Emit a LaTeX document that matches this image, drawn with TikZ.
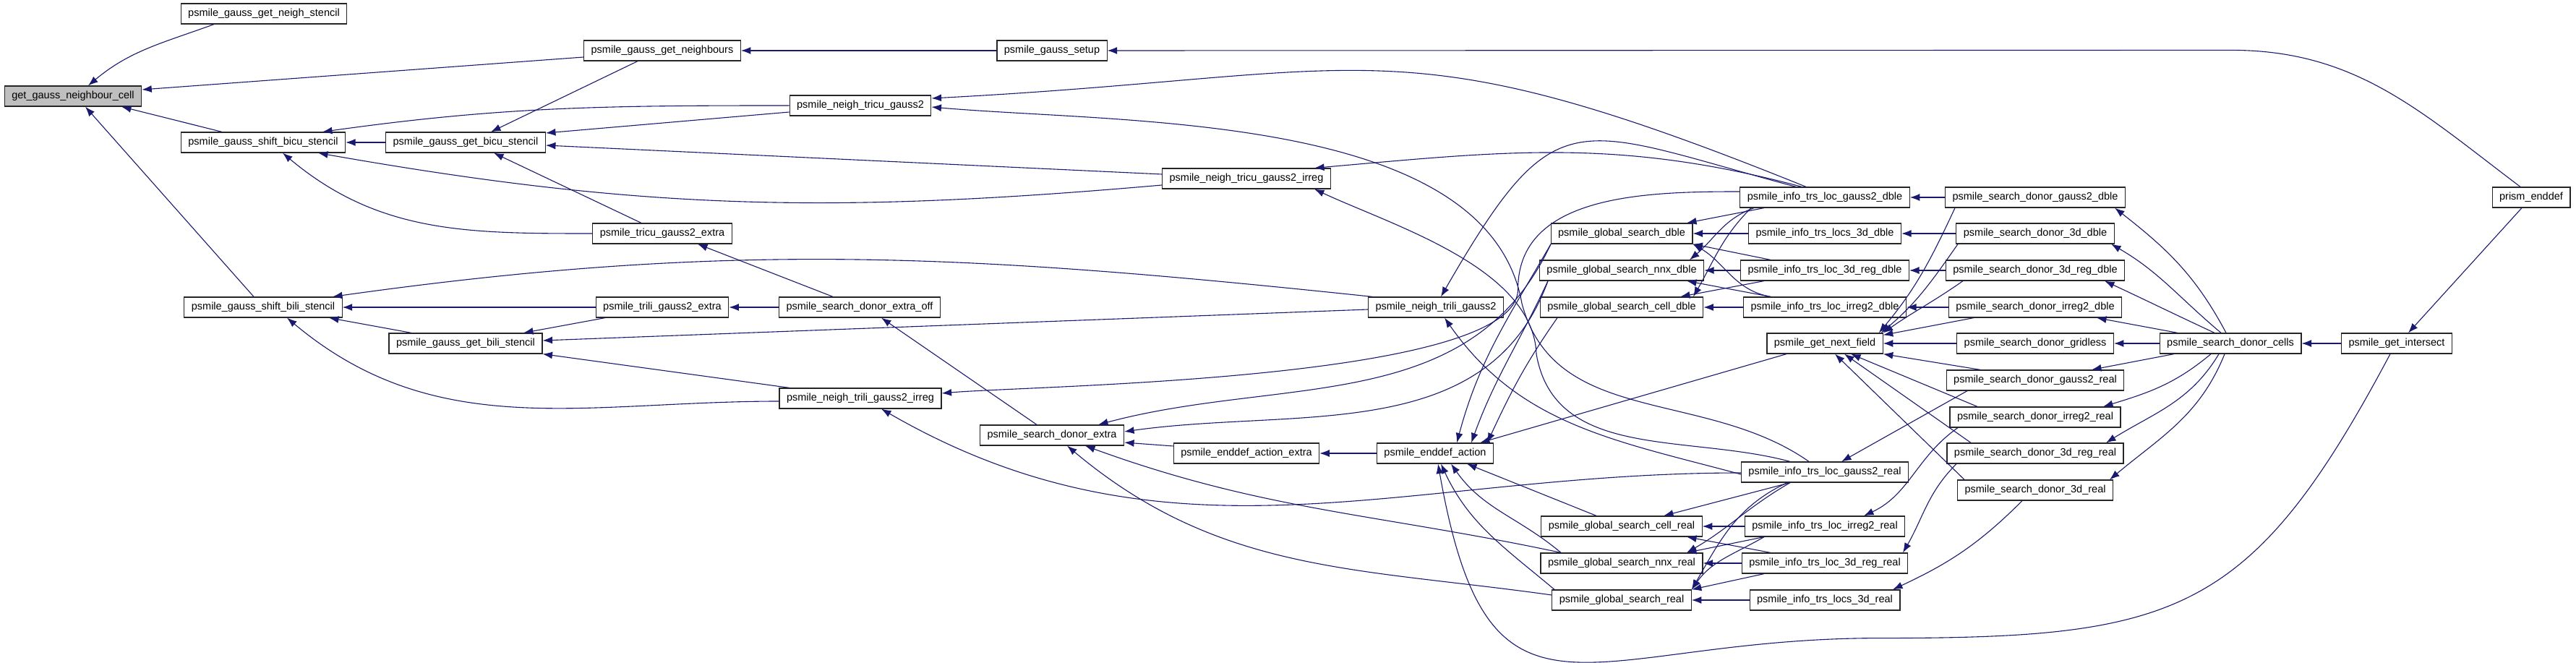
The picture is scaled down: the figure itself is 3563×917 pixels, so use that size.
\documentclass[tikz,border=0pt]{standalone}
\usepackage{fontspec}
\setmainfont{Liberation Sans}
\usepackage{tikz}
\usetikzlibrary{arrows.meta}
\definecolor{callblue}{HTML}{191970}
\definecolor{focusgray}{HTML}{BFBFBF}
\tikzset{>={Latex[length=5.4pt,width=4pt]},
	fn/.style={draw=black!85, line width=0.48pt, fill=white, minimum height=11.2pt, inner xsep=4pt, inner ysep=0pt, font=\fontsize{5.8}{6.4}\selectfont},
	focus/.style={fn, fill=focusgray},
	call/.style={->, draw=callblue, line width=0.44pt},
}

\begin{document}
\begin{tikzpicture}[x=0.4pt,y=0.4pt]
				\useasboundingbox (0,0) rectangle (3563,-917);
				
				\node[focus] (ggnc) at (101,-133) {get\_gauss\_neighbour\_cell};
				\node[fn] (nst) at (365,-19) {psmile\_gauss\_get\_neigh\_stencil};
				\node[fn] (sbicu) at (364,-197) {psmile\_gauss\_shift\_bicu\_stencil};
				\node[fn] (sbili) at (364,-425) {psmile\_gauss\_shift\_bili\_stencil};
				\node[fn] (gbicu) at (644,-197) {psmile\_gauss\_get\_bicu\_stencil};
				\node[fn] (gbili) at (644,-475) {psmile\_gauss\_get\_bili\_stencil};
				\node[fn] (gnb) at (916,-70) {psmile\_gauss\_get\_neighbours};
				\node[fn] (tcx) at (916,-323) {psmile\_tricu\_gauss2\_extra};
				\node[fn] (tlx) at (916,-425) {psmile\_trili\_gauss2\_extra};
				\node[fn] (ntc) at (1190,-146) {psmile\_neigh\_tricu\_gauss2};
				\node[fn] (sxo) at (1189,-425) {psmile\_search\_donor\_extra\_off};
				\node[fn] (ntli) at (1190,-551) {psmile\_neigh\_trili\_gauss2\_irreg};
				\node[fn] (gset) at (1455,-70) {psmile\_gauss\_setup};
				\node[fn] (sdx) at (1455,-602) {psmile\_search\_donor\_extra};
				\node[fn] (ntci) at (1724,-247) {psmile\_neigh\_tricu\_gauss2\_irreg};
				\node[fn] (eax) at (1724,-627) {psmile\_enddef\_action\_extra};
				\node[fn] (ntl) at (1986,-425) {psmile\_neigh\_trili\_gauss2};
				\node[fn] (ea) at (1985,-627) {psmile\_enddef\_action};
				\node[fn] (gsd) at (2243,-323) {psmile\_global\_search\_dble};
				\node[fn] (gsnd) at (2243,-374) {psmile\_global\_search\_nnx\_dble};
				\node[fn] (gscd) at (2243,-425) {psmile\_global\_search\_cell\_dble};
				\node[fn] (gscr) at (2243,-728) {psmile\_global\_search\_cell\_real};
				\node[fn] (gsnr) at (2243,-779) {psmile\_global\_search\_nnx\_real};
				\node[fn] (gsr) at (2243,-830) {psmile\_global\_search\_real};
				\node[fn] (igd) at (2524,-273) {psmile\_info\_trs\_loc\_gauss2\_dble};
				\node[fn] (i3d) at (2524,-323) {psmile\_info\_trs\_locs\_3d\_dble};
				\node[fn] (irgd) at (2524,-374) {psmile\_info\_trs\_loc\_3d\_reg\_dble};
				\node[fn] (iid) at (2524,-425) {psmile\_info\_trs\_loc\_irreg2\_dble};
				\node[fn] (gnf) at (2524,-475) {psmile\_get\_next\_field};
				\node[fn] (igr) at (2524,-653) {psmile\_info\_trs\_loc\_gauss2\_real};
				\node[fn] (iir) at (2524,-728) {psmile\_info\_trs\_loc\_irreg2\_real};
				\node[fn] (irgr) at (2524,-779) {psmile\_info\_trs\_loc\_3d\_reg\_real};
				\node[fn] (i3r) at (2524,-830) {psmile\_info\_trs\_locs\_3d\_real};
				\node[fn] (sgd) at (2815,-273) {psmile\_search\_donor\_gauss2\_dble};
				\node[fn] (s3d) at (2815,-323) {psmile\_search\_donor\_3d\_dble};
				\node[fn] (srgd) at (2815,-374) {psmile\_search\_donor\_3d\_reg\_dble};
				\node[fn] (sid) at (2815,-425) {psmile\_search\_donor\_irreg2\_dble};
				\node[fn] (sgl) at (2815,-475) {psmile\_search\_donor\_gridless};
				\node[fn] (sgr) at (2815,-526) {psmile\_search\_donor\_gauss2\_real};
				\node[fn] (sir) at (2815,-577) {psmile\_search\_donor\_irreg2\_real};
				\node[fn] (srgr) at (2815,-627) {psmile\_search\_donor\_3d\_reg\_real};
				\node[fn] (s3r) at (2815,-678) {psmile\_search\_donor\_3d\_real};
				\node[fn] (sdc) at (3085,-475) {psmile\_search\_donor\_cells};
				\node[fn] (gint) at (3315,-475) {psmile\_get\_intersect};
				\node[fn] (pe) at (3501,-273) {prism\_enddef};
				
				% left part
				\draw[call] ([shift={(-69,0)}]nst.south) to[out=-160,in=40] ([shift={(21,0)}]ggnc.north);
				\draw[call] ([shift={(0,-9)}]gnb.west) -- ([shift={(0,9)}]ggnc.east);
				\draw[call] ([shift={(-57,0)}]sbicu.north) -- ([shift={(67,0)}]ggnc.south);
				\draw[call] ([shift={(-13,0)}]sbili.north) -- ([shift={(17,0)}]ggnc.south);
				\draw[call] (ntc.west) to[out=180,in=8] ([shift={(82,0)}]sbicu.north);
				\draw[call] (gbicu) -- (sbicu);
				\draw[call] ([shift={(0,-9)}]ntci.west) to[out=185,in=-10] ([shift={(76,0)}]sbicu.south);
				\draw[call] (tcx.west) to[out=180,in=-40] ([shift={(27,0)}]sbicu.south);
				\draw[call] ([shift={(-34,0)}]gnb.south) -- ([shift={(35,0)}]gbicu.north);
				\draw[call] ([shift={(0,-9)}]ntc.west) -- ([shift={(0,13)}]gbicu.east);
				\draw[call] ([shift={(0,6)}]ntci.west) -- ([shift={(0,-4)}]gbicu.east);
				\draw[call] ([shift={(-29,0)}]tcx.north) -- ([shift={(39,0)}]gbicu.south);
				\draw[call] (gset) -- (gnb);
				\draw[call] ([shift={(-15,0)}]pe.north) to[out=143,in=0] ([shift={(-415,189)}]pe.north) -- (gset.east);
				\draw[call] ([shift={(-13,0)}]pe.south) -- ([shift={(16,0)}]gint.north);
				\draw[call] (gint) -- (sdc);
				\draw[call] ([shift={(-9,0)}]gint.south) to[out=-118,in=0,looseness=1.3] ([shift={(-715,-393)}]gint.south) to[out=180,in=-80,looseness=1.6] ([shift={(4,0)}]ea.south);
				\draw[call] ([shift={(0,10)}]eax.west) -- ([shift={(0,-10)}]sdx.east);
				\draw[call] (ea) -- (eax);
				\draw[call] ([shift={(-21,0)}]sdx.north) -- ([shift={(30,0)}]sxo.south);
				\draw[call] ([shift={(-37,0)}]sxo.north) -- ([shift={(49,0)}]tcx.south);
				\draw[call] (sxo) -- (tlx);
				\draw[call] (tlx) -- (sbili);
				\draw[call] ([shift={(-79,0)}]tlx.south) -- ([shift={(80,0)}]gbili.north);
				\draw[call] ([shift={(-75,0)}]gbili.north) -- ([shift={(91,0)}]sbili.south);
				\draw[call] ([shift={(-88,0)}]ntl.north) to[out=174,in=8] ([shift={(96,0)}]sbili.north);
				\draw[call] ([shift={(0,-3)}]ntl.west) -- ([shift={(0,4)}]gbili.east);
				\draw[call] ([shift={(0,-4)}]ntli.west) to[out=180,in=-40] ([shift={(33,0)}]sbili.south);
				\draw[call] ([shift={(-98,0)}]ntli.north) -- (gbili.south east);
				
				% search donor cells
				\draw[call] ([shift={(-6,0)}]sdc.north) to[out=118,in=-38] ([shift={(110,0)}]sgd.south);
				\draw[call] ([shift={(-13,0)}]sdc.north) to[out=140,in=-30] ([shift={(105,0)}]s3d.south);
				\draw[call] ([shift={(-22,0)}]sdc.north) to[out=155,in=-25] ([shift={(96,0)}]srgd.south);
				\draw[call] ([shift={(-73,0)}]sdc.north) -- ([shift={(85,0)}]sid.south);
				\draw[call] (sdc) -- (sgl);
				\draw[call] ([shift={(-78,0)}]sdc.south) -- ([shift={(78,0)}]sgr.north);
				\draw[call] ([shift={(-27,0)}]sdc.south) to[out=-140,in=17] ([shift={(94,0)}]sir.north);
				\draw[call] ([shift={(-16,0)}]sdc.south) to[out=-121,in=32] ([shift={(98,0)}]srgr.north);
				\draw[call] ([shift={(-8,0)}]sdc.south) to[out=-112,in=40] ([shift={(103,0)}]s3r.north);
				
				\draw[call] (sgd) -- (igd);
				\draw[call] (s3d) -- (i3d);
				\draw[call] (srgd) -- (irgd);
				\draw[call] (sid) -- (iid);
				\draw[call] (sgl) -- (gnf);
				\draw[call] ([shift={(-111,0)}]sgd.south) to[out=-115,in=50] ([shift={(-6,0)}]gnf.north east);
				\draw[call] ([shift={(-107,0)}]s3d.south) to[out=-125,in=40] ([shift={(-3,0)}]gnf.north east);
				\draw[call] ([shift={(-100,0)}]srgd.south) to[out=-145,in=35] (gnf.north east);
				\draw[call] ([shift={(-85,0)}]sid.south) -- ([shift={(0,-3)}]gnf.north east);
				\draw[call] ([shift={(-76,0)}]sgr.north) -- (gnf.south east);
				\draw[call] ([shift={(-80,0)}]sir.north) -- ([shift={(36,0)}]gnf.south);
				\draw[call] ([shift={(-89,0)}]srgr.north) -- ([shift={(27,0)}]gnf.south);
				\draw[call] ([shift={(-98,0)}]s3r.north) -- ([shift={(14,0)}]gnf.south);
				\draw[call] ([shift={(-94,0)}]sgr.south) -- ([shift={(23,0)}]igr.north);
				\draw[call] ([shift={(-107,0)}]sir.south) to[out=-145,in=25] ([shift={(54,0)}]iir.north);
				\draw[call] ([shift={(-109,0)}]srgr.south) to[out=-135,in=60] ([shift={(108,0)}]irgr.north);
				\draw[call] ([shift={(-18,0)}]s3r.south) to[out=-135,in=25] ([shift={(94,0)}]i3r.north);
				
				% info dble
				\draw[call] ([shift={(-84,0)}]igd.south) -- ([shift={(90,0)}]gsd.north);
				\draw[call] (i3d) -- (gsd);
				\draw[call] ([shift={(-75,0)}]irgd.north) -- (gsd.south east);
				\draw[call] ([shift={(-75,0)}]iid.north) to[out=170,in=-30] (gsd.south east);
				\draw[call] ([shift={(-98,0)}]igd.south) to[out=-160,in=40] ([shift={(94,0)}]gsnd.north);
				\draw[call] (irgd) -- (gsnd);
				\draw[call] ([shift={(-75,0)}]iid.north) -- ([shift={(90,0)}]gsnd.south);
				\draw[call] ([shift={(-102,0)}]igd.south) to[out=-135,in=60] ([shift={(99,0)}]gscd.north);
				\draw[call] ([shift={(-84,0)}]irgd.south) -- ([shift={(81,0)}]gscd.north);
				\draw[call] (iid) -- (gscd);
				\draw[call] ([shift={(-26,0)}]igd.north) to[out=158,in=3,looseness=1.3] ([shift={(0,10)}]ntc.east);
				\draw[call] ([shift={(-32,0)}]igd.north) to[out=165,in=5] ([shift={(94,0)}]ntci.north);
				\draw[call] ([shift={(-40,0)}]igd.north) to[out=165,in=60,looseness=1.6] ([shift={(7,0)}]ntl.north);
				\draw[call] ([shift={(0,8)}]igd.west) to[out=180,in=90] ([shift={(-45,-77)}]gsd.west) to[out=-90,in=5,looseness=0.4] ([shift={(0,7)}]ntli.east);
				
				% info real
				\draw[call] ([shift={(-48,0)}]igr.south) -- ([shift={(58,0)}]gscr.north);
				\draw[call] ([shift={(-48,0)}]igr.south) to[out=-150,in=30] ([shift={(90,0)}]gsnr.north);
				\draw[call] ([shift={(-52,0)}]igr.south) to[out=-155,in=60] (gsr.north east);
				\draw[call] (iir) -- (gscr);
				\draw[call] ([shift={(-84,0)}]iir.south) -- ([shift={(90,0)}]gsnr.north);
				\draw[call] ([shift={(-84,0)}]iir.south) to[out=-150,in=55] (gsr.north east);
				\draw[call] ([shift={(-75,0)}]irgr.north) -- ([shift={(90,0)}]gscr.south);
				\draw[call] (irgr) -- (gsnr);
				\draw[call] ([shift={(-84,0)}]irgr.south) -- (gsr.north east);
				\draw[call] (i3r) -- (gsr);
				\draw[call] ([shift={(-22,0)}]igr.north) to[out=145,in=-75] ([shift={(25,5)}]ntl.east) to[out=100,in=-5,looseness=0.8] ([shift={(0,-2)}]ntc.east);
				\draw[call] ([shift={(-48,0)}]igr.north) to[out=165,in=-80] ([shift={(45,-65)}]ntl.east) to[out=92,in=-25,looseness=0.8] ([shift={(94,0)}]ntci.south);
				\draw[call] ([shift={(0,-3)}]igr.west) to[out=165,in=-55] ([shift={(12,0)}]ntl.south);
				\draw[call] ([shift={(0,-1)}]igr.west) to[out=180,in=-30] ([shift={(29,0)}]ntli.south);
				
				% global search
				\draw[call] ([shift={(-98,0)}]gsd.south) to[out=-120,in=75] ([shift={(30,0)}]ea.north);
				\draw[call] ([shift={(-102,0)}]gsnd.south) to[out=-115,in=70] ([shift={(50,0)}]ea.north);
				\draw[call] ([shift={(-89,0)}]gscd.south) to[out=-125,in=65] ([shift={(72,0)}]ea.north);
				\draw[call] ([shift={(-53,0)}]gnf.south) -- ([shift={(62,0)}]ea.north);
				\draw[call] ([shift={(-98,0)}]gsd.south) to[out=-115,in=15] ([shift={(64,0)}]sdx.north);
				\draw[call] ([shift={(-102,0)}]gsnd.south) to[out=-110,in=8] ([shift={(0,5)}]sdx.east);
				\draw[call] ([shift={(-35,0)}]gscr.north) -- ([shift={(44,0)}]ea.south);
				\draw[call] ([shift={(-84,0)}]gsnr.north) to[out=140,in=-55] ([shift={(22,0)}]ea.south);
				\draw[call] ([shift={(-93,0)}]gsr.north) to[out=140,in=-65] ([shift={(8,0)}]ea.south);
				\draw[call] ([shift={(-84,0)}]gsnr.north) to[out=168,in=-20] ([shift={(46,0)}]sdx.south);
				\draw[call] ([shift={(0,7)}]gsr.west) to[out=172,in=-40] ([shift={(21,0)}]sdx.south);
			\end{tikzpicture}
\end{document}
